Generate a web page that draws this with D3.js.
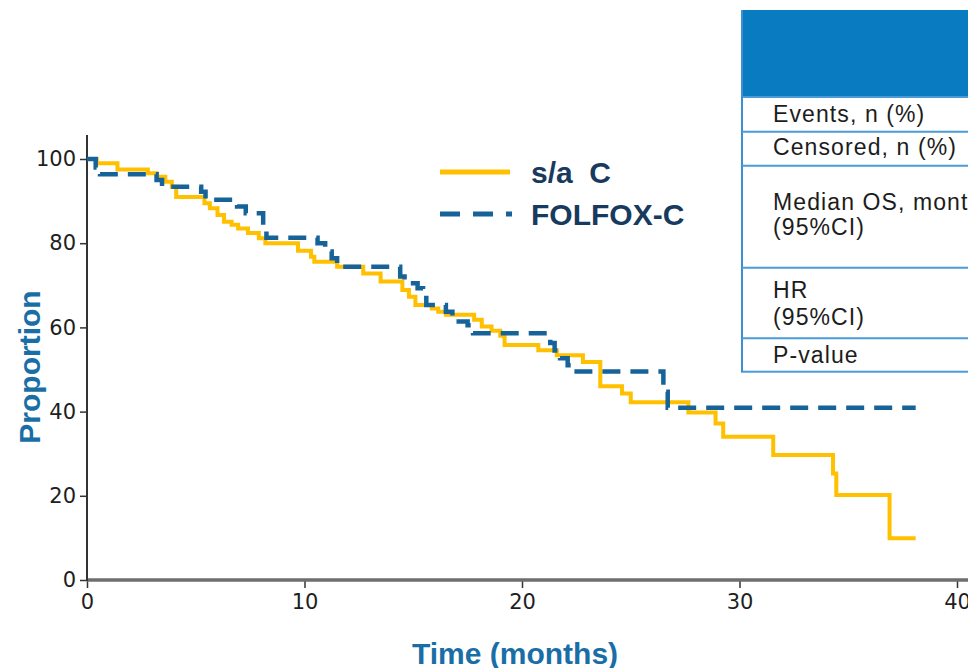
<!DOCTYPE html>
<html>
<head>
<meta charset="utf-8">
<script src="https://cdn.jsdelivr.net/npm/d3@7/dist/d3.min.js"></script>
<style>
  body { margin: 0; background: #fff; }
</style>
</head>
<body>
<div id="graphic"></div>
<script>
// Kaplan-Meier steps: time (months) where survival drops, and new value (%)
var saTime = [0, 0.45, 1.4, 2.8, 3.2, 3.6, 3.9, 4.1, 5.4, 5.65, 6.0, 6.3, 6.65, 6.95, 7.4, 7.9, 8.2,
              9.7, 10.3, 10.45, 11.5, 12.7, 13.5, 14.5, 14.8, 15.1, 15.85, 16.15, 16.5, 17.8, 18.15,
              18.6, 19.0, 19.2, 20.75, 21.6, 22.8, 23.6, 24.6, 25.0, 27.65, 28.9, 29.25, 31.55,
              34.3, 34.45, 36.9, 38.1];
var saSurv = [100, 99, 97.5, 96.6, 95.8, 94.6, 93.4, 91.0, 89.5, 88.3, 86.7, 85.1, 84.4, 83.5, 82.4, 81.2, 80.0,
              78.2, 76.8, 75.6, 74.4, 72.8, 70.9, 68.9, 67.3, 65.3, 64.5, 63.7, 63.0, 61.8, 60.2,
              59.2, 58.0, 55.8, 54.6, 53.4, 51.8, 46.0, 44.3, 42.2, 39.8, 37.2, 34.0, 29.7,
              25.3, 20.2, 9.9, 9.9];

var folTime = [0, 0.4, 0.6, 3.2, 3.45, 5.25, 5.45, 6.9, 7.3, 8.1, 8.25, 10.6, 10.95, 11.25, 11.5,
               14.4, 14.6, 15.2, 15.45, 15.6, 16.5, 16.8, 17.5, 17.75, 21.3, 21.5, 21.75, 22.1, 22.3,
               26.5, 26.7, 38.1];
var folSurv = [100, 98, 96.4, 95.0, 93.4, 92.2, 90.3, 88.7, 87.1, 84.3, 81.3, 80.0, 78.0, 76.4, 74.4,
               72.1, 70.5, 69.3, 68.0, 65.3, 63.7, 61.4, 60.5, 58.6, 56.3, 54.5, 52.7, 51.0, 49.5,
               44.7, 40.9, 40.9];

var xTicks = [0, 10, 20, 30, 40];
var yTicks = [0, 20, 40, 60, 80, 100];

var seriesNames = ["s/a  C", "FOLFOX-C"];

var tableRows = [
    ["Events, n (%)"],
    ["Censored, n (%)"],
    ["Median OS, months", "(95%CI)"],
    ["HR", "(95%CI)"],
    ["P-value"]
];

var w = 968, h = 668;
var yellow = "#ffc000", blue = "#16639a", titleBlue = "#1a6ea6";

var svg = d3.select("#graphic")
    .append("svg")
    .attr("width", w)
    .attr("height", h)
    .style("display", "block");

var xScale = d3.scaleLinear().domain([0, 40]).range([87, 957]);
var yScale = d3.scaleLinear().domain([0, 100]).range([580, 159]);

// ---- table on the right (cut by the page edge) ----
var tbl = svg.append("g");
var tblX = 742, rowEdges = [10, 97, 131.7, 165.7, 267.7, 338.3, 371.7];
tbl.append("rect")
    .attr("x", tblX).attr("y", rowEdges[0])
    .attr("width", 260).attr("height", rowEdges[1] - rowEdges[0])
    .attr("fill", "#087bc1");
tbl.append("rect")
    .attr("x", tblX).attr("y", rowEdges[1])
    .attr("width", 260).attr("height", rowEdges[6] - rowEdges[1])
    .attr("fill", "none").attr("stroke", "#4a9bd8").attr("stroke-width", 2);
tbl.append("line")
    .attr("x1", tblX).attr("x2", tblX)
    .attr("y1", rowEdges[0]).attr("y2", rowEdges[6])
    .attr("stroke", "#3d8fcf").attr("stroke-width", 2);
tbl.selectAll("line.row")
    .data(rowEdges.slice(2, 6))
    .enter().append("line")
    .attr("class", "row")
    .attr("x1", tblX).attr("x2", 1000)
    .attr("y1", function(d){ return d; }).attr("y2", function(d){ return d; })
    .attr("stroke", "#4a9bd8").attr("stroke-width", 2);

var baselines = [[121.7], [155], [210, 235], [298, 325], [363]];
tableRows.forEach(function(r, i){
    r.forEach(function(t, j){
        tbl.append("text")
            .attr("x", 773).attr("y", baselines[i][j])
            .attr("font-family", "Liberation Sans, Arial, sans-serif")
            .attr("font-size", 23)
            .attr("letter-spacing", 1.1)
            .attr("fill", "#1c1c1c")
            .text(t);
    });
});

// ---- axes ----
var xAxis = svg.append("g")
    .attr("transform", "translate(0," + 580 + ")")
    .call(d3.axisBottom(xScale).tickValues(xTicks).tickSize(8).tickPadding(6));
xAxis.select(".domain").remove();
xAxis.append("line")
    .attr("x1", 87).attr("x2", 968).attr("y1", 0).attr("y2", 0)
    .attr("stroke", "#6e6e6e").attr("stroke-width", 3.5);
xAxis.selectAll(".tick line").attr("stroke", "#333").attr("stroke-width", 1.5);

var yAxis = svg.append("g")
    .attr("transform", "translate(" + 87 + ",0)")
    .call(d3.axisLeft(yScale).tickValues(yTicks).tickSize(7).tickPadding(4));
yAxis.select(".domain").remove();
yAxis.append("line")
    .attr("x1", 0).attr("x2", 0).attr("y1", 135).attr("y2", 581)
    .attr("stroke", "#333").attr("stroke-width", 2);
yAxis.selectAll(".tick line").attr("stroke", "#333").attr("stroke-width", 1.5);

svg.selectAll(".tick text")
    .attr("font-family", "DejaVu Sans, sans-serif")
    .attr("font-size", 21)
    .attr("fill", "#1e1e1e");

// axis titles
svg.append("text")
    .attr("transform", "translate(40,367) rotate(-90)")
    .attr("text-anchor", "middle")
    .attr("font-family", "Liberation Sans, Arial, sans-serif")
    .attr("font-weight", "bold")
    .attr("font-size", 30)
    .attr("fill", titleBlue)
    .text("Proportion");
svg.append("text")
    .attr("x", 515).attr("y", 664)
    .attr("text-anchor", "middle")
    .attr("font-family", "Liberation Sans, Arial, sans-serif")
    .attr("font-weight", "bold")
    .attr("font-size", 30)
    .attr("fill", titleBlue)
    .text("Time (months)");

// ---- curves ----
var line = d3.line()
    .x(function(d){ return xScale(d[0]); })
    .y(function(d){ return yScale(d[1]); })
    .curve(d3.curveStepAfter);

var saData = saTime.map(function(t, i){ return [t, saSurv[i]]; });
var folData = folTime.map(function(t, i){ return [t, folSurv[i]]; });

svg.append("path")
    .datum(saData)
    .attr("d", line)
    .attr("fill", "none")
    .attr("stroke", yellow)
    .attr("stroke-width", 4);

svg.append("path")
    .datum(folData)
    .attr("d", line)
    .attr("fill", "none")
    .attr("stroke", blue)
    .attr("stroke-width", 4.5)
    .attr("stroke-dasharray", "18,10");

// ---- legend ----
var legend = svg.append("g");
legend.append("line")
    .attr("x1", 440).attr("x2", 510).attr("y1", 172).attr("y2", 172)
    .attr("stroke", yellow).attr("stroke-width", 5);
legend.append("line")
    .attr("x1", 440).attr("x2", 512).attr("y1", 214).attr("y2", 214)
    .attr("stroke", blue).attr("stroke-width", 5)
    .attr("stroke-dasharray", "20,13");
legend.selectAll("text")
    .data(seriesNames)
    .enter().append("text")
    .attr("x", 531)
    .attr("y", function(d, i){ return 183 + i * 42; })
    .attr("font-family", "Liberation Sans, Arial, sans-serif")
    .attr("font-weight", "bold")
    .attr("font-size", 30)
    .attr("fill", "#173a5e")
    .attr("xml:space", "preserve")
    .style("white-space", "pre")
    .text(function(d){ return d; });
</script>
</body>
</html>
